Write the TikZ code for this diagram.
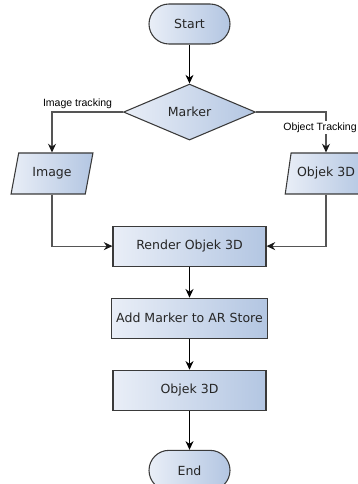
\documentclass[tikz,border=0pt]{standalone}
\usepackage{fontspec}
\setmainfont{DejaVu Sans}
\newfontfamily\labelfont{Liberation Sans}
\usetikzlibrary{shapes.geometric, positioning, arrows.meta}
\definecolor{boxleft}{HTML}{E9EEF7}
\definecolor{boxright}{HTML}{B3C6E2}
\definecolor{boxline}{HTML}{3A3A3A}
\definecolor{flowgray}{HTML}{555555}

\tikzset{
  flowbox/.style={draw=boxline, line width=0.8pt, left color=boxleft, right color=boxright,
    font=\fontsize{9.4}{10}\selectfont, text=black!85},
  terminal/.style={flowbox, rectangle, rounded corners=15pt, minimum width=60.75pt, minimum height=30pt},
  process/.style={flowbox, rectangle, minimum width=114.75pt, minimum height=30pt},
  decision/.style={flowbox, diamond, aspect=2.36, minimum width=99pt, minimum height=42pt, inner sep=0pt},
  inout/.style={flowbox, trapezium, trapezium left angle=75, trapezium right angle=105,
    trapezium stretches=true, minimum width=61.5pt, minimum height=30.75pt},
  flow/.style={-{Stealth[length=6.5pt,width=6pt]}, line width=0.9pt},
  sideflow/.style={draw=flowgray, -{Stealth[length=6.5pt,width=6pt,color=black!90]}, line width=0.9pt},
  branchlabel/.style={font=\labelfont\fontsize{7.9}{9}\selectfont, fill=white, inner sep=1pt}
}

\begin{document}
\begin{tikzpicture}[x=0.75pt, y=-0.75pt]
    \useasboundingbox (0,0) rectangle (357,484);

    % main column
    \node[terminal] (start) at (189.5,24) {Start};
    \node[decision, below=29.25pt of start] (marker) {Marker};
    \node[process, below=63.75pt of marker] (render) {Render Objek 3D};
    \node[process, below=23.25pt of render] (store) {Add Marker to AR Store};
    \node[process, below=23.25pt of store] (model) {Objek 3D};
    \node[terminal, below=29.25pt of model] (end) {End};

    % branches
    \node[inout] (image) at (52,173.5) {Image};
    \node[inout] (objek) at (326,173.5) {Objek 3D};

    \draw[flow] (start) -- (marker);
    \draw[sideflow] (marker.west) -| node[branchlabel, pos=0.32, above=1pt] {Image tracking} (image.north);
    \draw[sideflow] (marker.east) -| node[branchlabel, pos=0.69, xshift=-4.5pt] {Object Tracking} (objek.north);
    \draw[sideflow] (image.south) |- (render.west);
    \draw[sideflow] (objek.south) |- (render.east);
    \draw[flow] (render) -- (store);
    \draw[flow] (store) -- (model);
    \draw[flow] (model) -- (end);
\end{tikzpicture}
\end{document}
